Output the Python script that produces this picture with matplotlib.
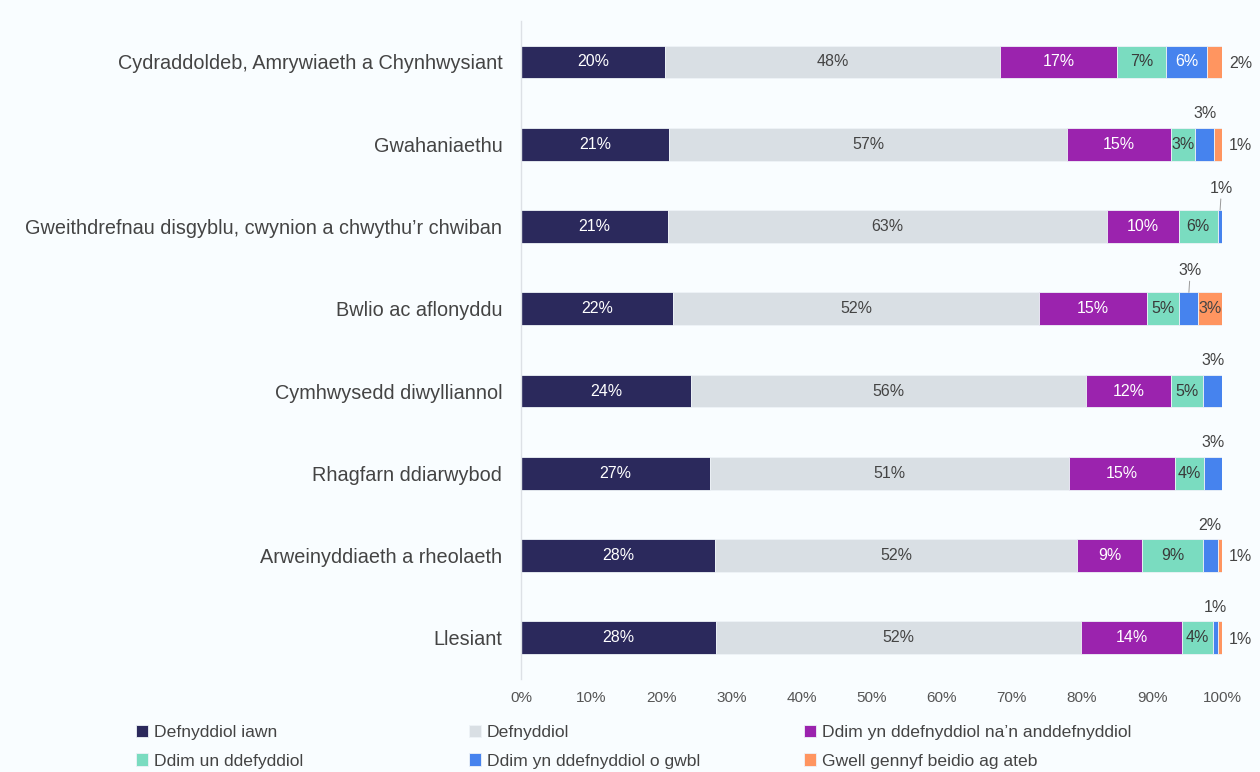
import numpy as np
import matplotlib
matplotlib.use("Agg")
import matplotlib.pyplot as plt

plt.rcParams["font.family"] = ["Liberation Sans", "DejaVu Sans"]

# ===== data =====
categories = [
    "Cydraddoldeb, Amrywiaeth a Chynhwysiant",
    "Gwahaniaethu",
    "Gweithdrefnau disgyblu, cwynion a chwythu\u2019r chwiban",
    "Bwlio ac aflonyddu",
    "Cymhwysedd diwylliannol",
    "Rhagfarn ddiarwybod",
    "Arweinyddiaeth a rheolaeth",
    "Llesiant",
]
series_names = [
    "Defnyddiol iawn",
    "Defnyddiol",
    "Ddim yn ddefnyddiol na\u2019n anddefnyddiol",
    "Ddim un ddefyddiol",
    "Ddim yn ddefnyddiol o gwbl",
    "Gwell gennyf beidio ag ateb",
]
defnyddiol_iawn = [20.5, 21.1, 21.0, 21.7, 24.3, 27.0, 27.7, 27.8]
defnyddiol = [47.8, 56.8, 62.6, 52.2, 56.3, 51.2, 51.6, 52.1]
niwtral = [16.7, 14.8, 10.2, 15.4, 12.1, 15.1, 9.3, 14.4]
ddim_un = [7.0, 3.4, 5.6, 4.6, 4.6, 4.1, 8.6, 4.4]
ddim_o_gwbl = [5.9, 2.8, 0.6, 2.7, 2.7, 2.6, 2.2, 0.7]
gwell = [2.1, 1.1, 0.0, 3.4, 0.0, 0.0, 0.6, 0.6]
series = [defnyddiol_iawn, defnyddiol, niwtral, ddim_un, ddim_o_gwbl, gwell]

# where each value label goes: in / top / topline / right / "" (none)
label_pos = [
    ["in", "in", "in", "in", "in", "right"],
    ["in", "in", "in", "in", "top", "right"],
    ["in", "in", "in", "in", "topline", ""],
    ["in", "in", "in", "in", "topline", "in"],
    ["in", "in", "in", "in", "top", ""],
    ["in", "in", "in", "in", "top", ""],
    ["in", "in", "in", "in", "top", "right"],
    ["in", "in", "in", "in", "top", "right"],
]

colors = ["#2b295c", "#d9dfe4", "#9b23ae", "#7adcc0", "#4683ee", "#ff9560"]
text_colors = ["white", "#444444", "white", "#3a3a3a", "white", "#444444"]
BG = "#f9fdff"
GREY = "#444444"
LBL = 11.5

# ===== plot =====
fig = plt.figure(figsize=(12.6, 7.72), dpi=100, facecolor=BG)
ax = fig.add_axes([0.4135, 0.1205, 0.5565, 0.8525], facecolor=BG)

y = np.arange(len(categories))
left = np.zeros(len(categories))
bars = []
for i, vals in enumerate(series):
    b = ax.barh(y, vals, left=left, height=0.4, color=colors[i],
                edgecolor="#eef3f7", linewidth=0.6, label=series_names[i])
    bars.append(b)
    for r, v in enumerate(vals):
        pos = label_pos[r][i]
        if v <= 0 or not pos:
            continue
        txt = f"{v:.0f}%"
        cx = left[r] + v / 2
        if pos == "in":
            ax.text(cx, y[r], txt, ha="center", va="center", fontsize=LBL,
                    color=text_colors[i])
        elif pos == "right":
            ax.annotate(txt, (left[r] + v, y[r]), xytext=(5, -1),
                        textcoords="offset points", ha="left", va="center",
                        fontsize=LBL, color=GREY)
        elif pos == "top":
            ax.annotate(txt, (cx, y[r]), xytext=(0, 22),
                        textcoords="offset points", ha="center", va="center",
                        fontsize=LBL, color=GREY)
        elif pos == "topline":
            ax.annotate(txt, (cx, y[r] - 0.2), xytext=(1, 10),
                        textcoords="offset points", ha="center", va="bottom",
                        fontsize=LBL, color=GREY,
                        arrowprops=dict(arrowstyle="-", color="#999999",
                                        lw=0.7, shrinkA=0, shrinkB=0))
    left = left + np.array(vals)

ax.set_xlim(0, 100)
ax.set_ylim(len(categories) - 0.5, -0.5)
ax.set_yticks(y)
ax.set_yticklabels(categories, fontsize=14.3, color=GREY)
ax.set_xticks(np.arange(0, 101, 10))
ax.set_xticklabels([f"{t}%" for t in range(0, 101, 10)], fontsize=11, color="#555555")
ax.tick_params(length=0)
ax.tick_params(axis="y", pad=13.5)
ax.tick_params(axis="x", pad=9)
for s in ["top", "right", "bottom"]:
    ax.spines[s].set_visible(False)
ax.spines["left"].set_color("#dde1e6")
ax.spines["left"].set_linewidth(1)

# legend: three columns placed by hand
col_x = [0.108, 0.372, 0.638]
for c in range(3):
    hs = [bars[c], bars[c + 3]]
    ls = [series_names[c], series_names[c + 3]]
    leg = fig.legend(hs, ls, loc="upper left", bbox_to_anchor=(col_x[c], 0.061),
                     frameon=False, fontsize=12.6, handlelength=0.7,
                     handleheight=0.7, handletextpad=0.35, labelspacing=0.75,
                     borderaxespad=0, borderpad=0)
    for t in leg.get_texts():
        t.set_color(GREY)

plt.savefig("out.png", dpi=100, facecolor=BG)
plt.close()
